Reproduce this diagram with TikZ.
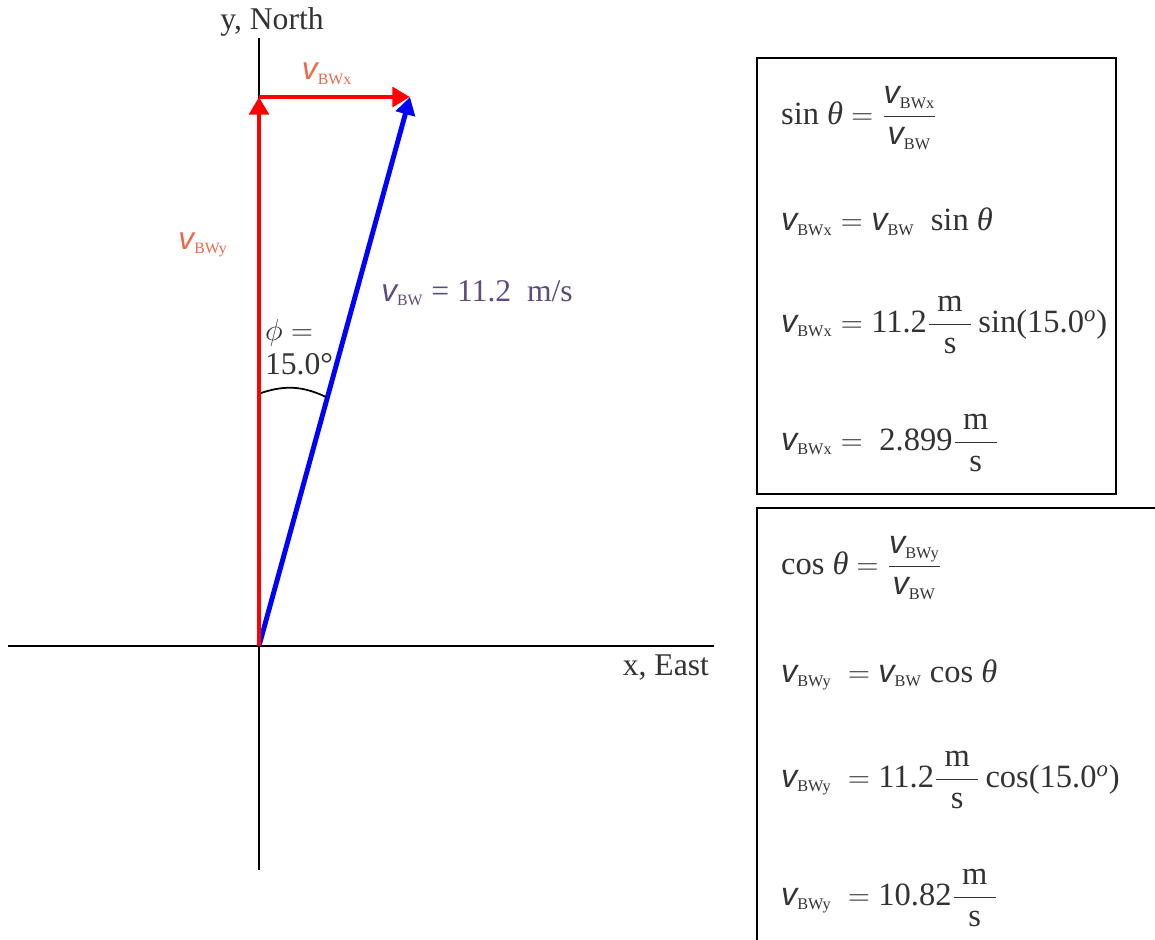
\documentclass[tikz,border=0pt]{standalone}
\usepackage{amsmath}
\usepackage{fontspec}
\setmainfont{Liberation Serif}
\setsansfont{Liberation Sans}
\usetikzlibrary{arrows.meta}
\definecolor{vecred}{RGB}{255,0,0}
\definecolor{vecblue}{RGB}{0,0,255}
\definecolor{lblorange}{RGB}{238,104,72}
\definecolor{lblpurple}{RGB}{96,76,124}
\definecolor{inkgray}{RGB}{51,51,51}
\newcommand{\vs}[1]{\text{\sffamily\itshape v}_{\scriptscriptstyle\text{#1}}}
\newcommand{\thet}{\text{\itshape θ}}
\newcommand{\ms}{\dfrac{\;\text{m}\;}{\text{s}}\,}
\begin{document}
\begin{tikzpicture}[x=0.02cm,y=-0.02cm, every node/.style={font=\fontsize{18}{21}\selectfont,text=inkgray,inner sep=1pt},
  axis/.style={line width=1.1pt,black},
  vec/.style={line width=2.8pt,-{Triangle[length=10pt,width=11pt]}},
  eq/.style={anchor=west,font=\fontsize{18.5}{22}\selectfont},
  box/.style={draw,line width=1.1pt}]
\clip (0,0) rectangle (1155,939);
% axes
\coordinate (orig) at (259,646);
\coordinate (ytop) at (259,38);
\coordinate (ybot) at (259,870);
\coordinate (xleft) at (8,646);
\coordinate (xright) at (714,646);
\draw[axis] (ybot) -- (ytop);
\draw[axis] (xleft) -- (xright);
\node (ylbl) at (272,22) {y, North};
\node[anchor=east] (xlbl) at (711,668) {x, East};
% vectors
\coordinate (tipy) at (259,97);
\coordinate (tipb) at (410,97);
\draw[vec,vecblue] (orig) -- (tipb);
\draw[vec,vecred] (orig) -- (tipy);
\draw[vec,vecred] (tipy) -- (tipb);
\node[text=lblorange] (lbx) at (327,74) {$\vs{BWx}$};
\node[text=lblorange] (lby) at (203,245) {$\vs{BWy}$};
\node[text=lblpurple] (lbw) at (477,293) {$\vs{BW}$ = 11.2\ \ m/s};
% angle
\coordinate (arcl) at (261,393);
\coordinate (arcr) at (326,397);
\draw[line width=1pt] (arcl) to[bend left=22] (arcr);
\node[anchor=west,align=left] (ang) at (263,347) {$\phi =$\\[-2pt]15.0°};
% sine box
\draw[box] (757,58) rectangle (1116,494);
\node[eq] (s1) at (779,118) {sin \thet\ $= \dfrac{\vs{BWx}}{\vs{BW}}$};
\node[eq] (s2) at (779,222) {$\vs{BWx} = \vs{BW}$\ \ sin \thet};
\node[eq] (s3) at (779,325) {$\vs{BWx} = \text{11.2}\ms\text{sin(15.0\textsuperscript{\itshape o})}$};
\node[eq] (s4) at (779,443) {$\vs{BWx} = \text{ 2.899}\ms$};
% cosine box
\draw[box] (757,508) rectangle (1175,960);
\node[eq] (c1) at (779,568) {cos \thet\ $= \dfrac{\vs{BWy}}{\vs{BW}}$};
\node[eq] (c2) at (779,675) {$\vs{BWy}\ = \vs{BW}$ cos \thet};
\node[eq] (c3) at (779,780) {$\vs{BWy}\ =\text{11.2}\ms\text{cos(15.0\textsuperscript{\itshape o})}$};
\node[eq] (c4) at (779,898) {$\vs{BWy}\ =\text{10.82}\ms$};
\end{tikzpicture}
\end{document}
